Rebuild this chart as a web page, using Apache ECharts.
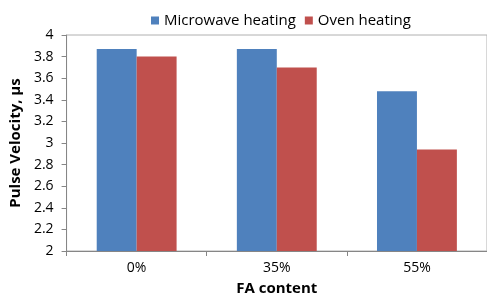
<!DOCTYPE html>
<html><head><meta charset="utf-8">
<script src="https://cdn.jsdelivr.net/npm/echarts@6/dist/echarts.min.js"></script>
<style>html,body{margin:0;padding:0;background:#fff}#c{width:487px;height:303px}</style>
</head><body><div id="c"></div>
<script>
const categories = ['0%', '35%', '55%'];
const microwave = [3.87, 3.87, 3.48];
const oven = [3.80, 3.70, 2.94];
const seriesNames = ['Microwave heating', 'Oven heating'];
const font = 'Open Sans';
const chart = echarts.init(document.getElementById('c'));
chart.setOption({
  animation: false,
  textStyle: {fontFamily: font},
  legend: {
    top: 8, left: 146, itemWidth: 8, itemHeight: 8, itemGap: 9,
    textStyle: {fontFamily: font, fontSize: 15, color: '#000'},
    icon: 'rect',
    data: seriesNames
  },
  grid: {left: 65, right: -4, top: 35, bottom: 52, show: true, borderColor: '#b0b0b0', borderWidth: 1},
  xAxis: {
    type: 'category', data: categories,
    name: 'FA content', nameLocation: 'middle', nameGap: 30,
    nameTextStyle: {fontFamily: font, fontWeight: 'bold', fontSize: 15, color: '#000'},
    axisLine: {lineStyle: {color: '#868686'}},
    axisTick: {show: true, length: 5, lineStyle: {color: '#868686'}},
    axisLabel: {fontFamily: font, fontSize: 14, color: '#000', margin: 10}
  },
  yAxis: {
    type: 'value', min: 2, max: 4, interval: 0.2,
    name: 'Pulse Velocity, µs', nameLocation: 'middle', nameGap: 40, nameRotate: 90,
    nameTextStyle: {fontFamily: font, fontWeight: 'bold', fontSize: 15, color: '#000'},
    splitLine: {show: false},
    axisLine: {show: true, lineStyle: {color: '#868686'}},
    axisTick: {show: true, length: 5, lineStyle: {color: '#868686'}},
    axisLabel: {fontFamily: font, fontSize: 14, color: '#000', margin: 13,
      formatter: v => String(Math.round(v * 10) / 10)}
  },
  series: [
    {name: seriesNames[0], type: 'bar', data: microwave, barGap: '0%', barCategoryGap: '43%',
     itemStyle: {color: '#4F81BD'}},
    {name: seriesNames[1], type: 'bar', data: oven, barGap: '0%', barCategoryGap: '43%',
     itemStyle: {color: '#C0504D'}}
  ]
});
</script></body></html>
